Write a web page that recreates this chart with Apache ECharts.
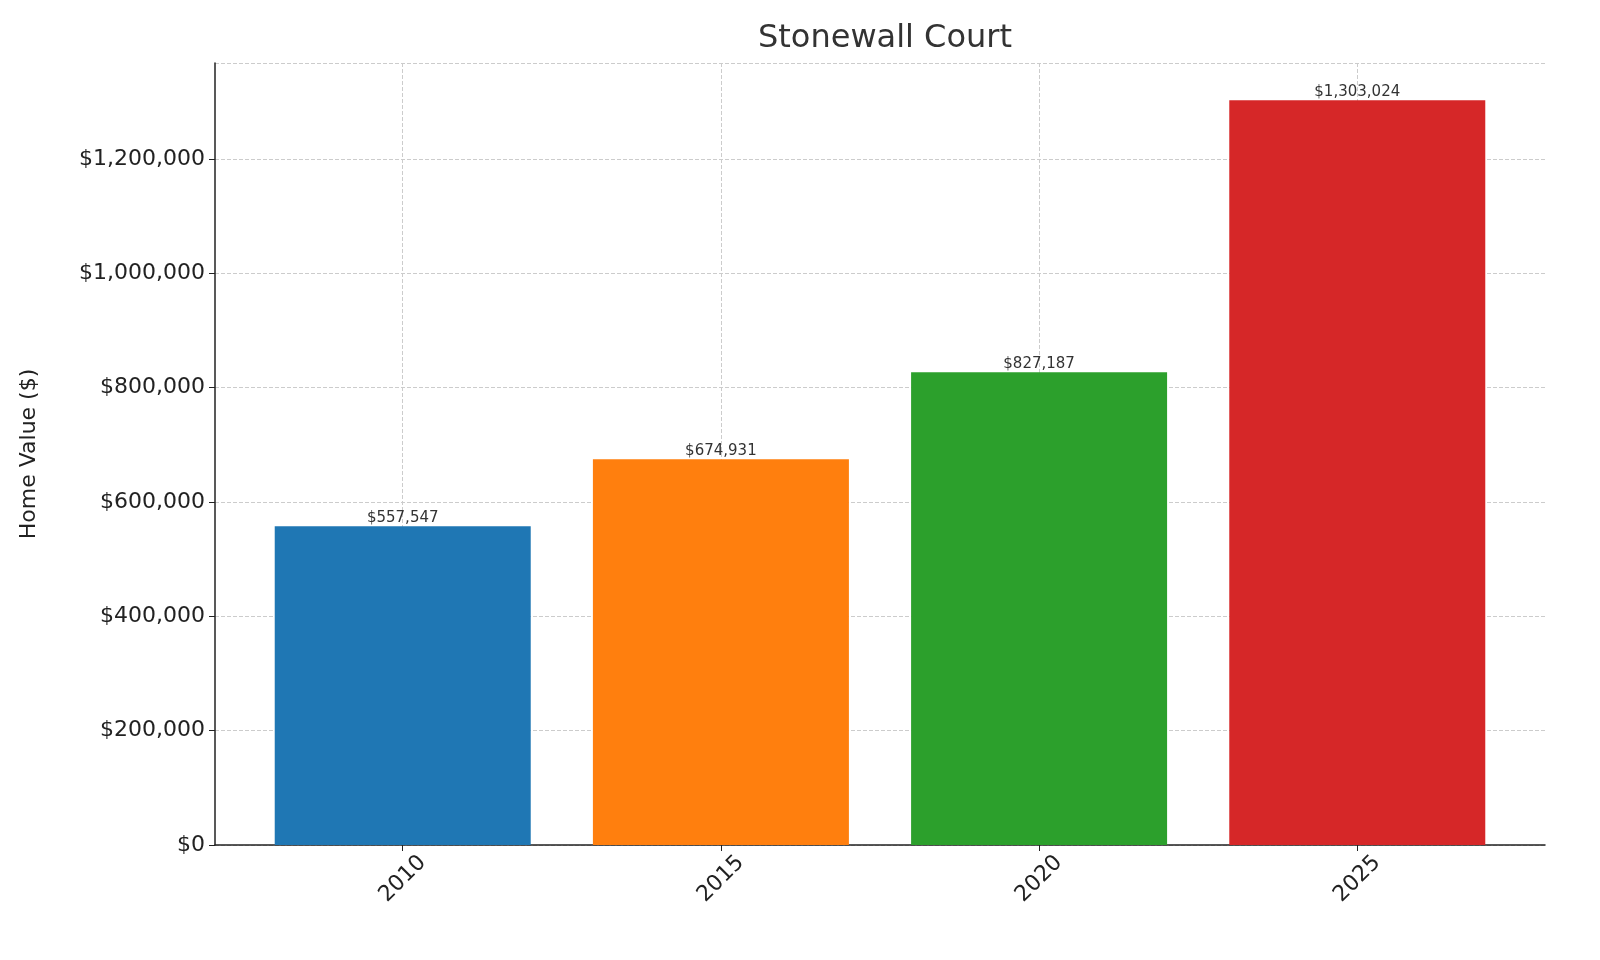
<!DOCTYPE html>
<html>
<head>
<meta charset="utf-8">
<script src="https://cdn.jsdelivr.net/npm/echarts@6/dist/echarts.min.js"></script>
<style>html,body{margin:0;background:#fff}#chart{width:1600px;height:960px}</style>
</head>
<body>
<div id="chart"></div>
<script>
var years = ['2010', '2015', '2020', '2025'];
var values = [557547, 674931, 827187, 1303024];
var colors = ['#1f77b4', '#ff7f0e', '#2ca02c', '#d62728'];

var chart = echarts.init(document.getElementById('chart'));
var data = [];
for (var i = 0; i < values.length; i++) {
    data.push({ value: [i, values[i]], itemStyle: { color: colors[i] } });
}
var option = {
    animation: false,
    textStyle: { fontFamily: 'DejaVu Sans' },
    title: {
        text: 'Stonewall Court',
        left: 880, top: 18, textAlign: 'center',
        textStyle: { fontSize: 32, fontWeight: 'normal', color: '#333' }
    },
    grid: { left: 215, right: 55, top: 63, bottom: 115 },
    xAxis: {
        type: 'value', min: -0.59, max: 3.59,
        axisLine: { onZero: false, lineStyle: { color: '#222', width: 1.5 } },
        axisTick: { customValues: [0, 1, 2, 3], length: 6, lineStyle: { color: '#222' } },
        axisLabel: {
            customValues: [0, 1, 2, 3], rotate: 45, fontSize: 22, color: '#222', margin: 34,
            align: 'center', verticalAlign: 'middle',
            formatter: function (v) { return years[Math.round(v)]; }
        },
        splitLine: { show: true, customValues: [0, 1, 2, 3], lineStyle: { type: 'dashed', color: '#ccc' } }
    },
    yAxis: {
        type: 'value', min: 0, max: 1368000, interval: 200000,
        name: 'Home Value ($)', nameLocation: 'middle', nameGap: 175,
        nameTextStyle: { fontSize: 22, color: '#222' },
        axisLine: { show: true, onZero: false, lineStyle: { color: '#222', width: 1.5 } },
        axisTick: { show: true, length: 6, lineStyle: { color: '#222' } },
        axisLabel: {
            fontSize: 22, color: '#222', margin: 10, showMaxLabel: false,
            formatter: function (v) { return '$' + v.toLocaleString('en-US'); }
        },
        splitLine: { lineStyle: { type: 'dashed', color: '#ccc' } }
    },
    series: [{
        type: 'bar', barWidth: 256, data: data, z: 1,
        label: {
            show: true, position: 'top', distance: 1, fontSize: 15, color: '#333',
            formatter: function (p) { return '$' + p.value[1].toLocaleString('en-US'); }
        }
    }]
};
chart.setOption(option);
</script>
</body>
</html>
